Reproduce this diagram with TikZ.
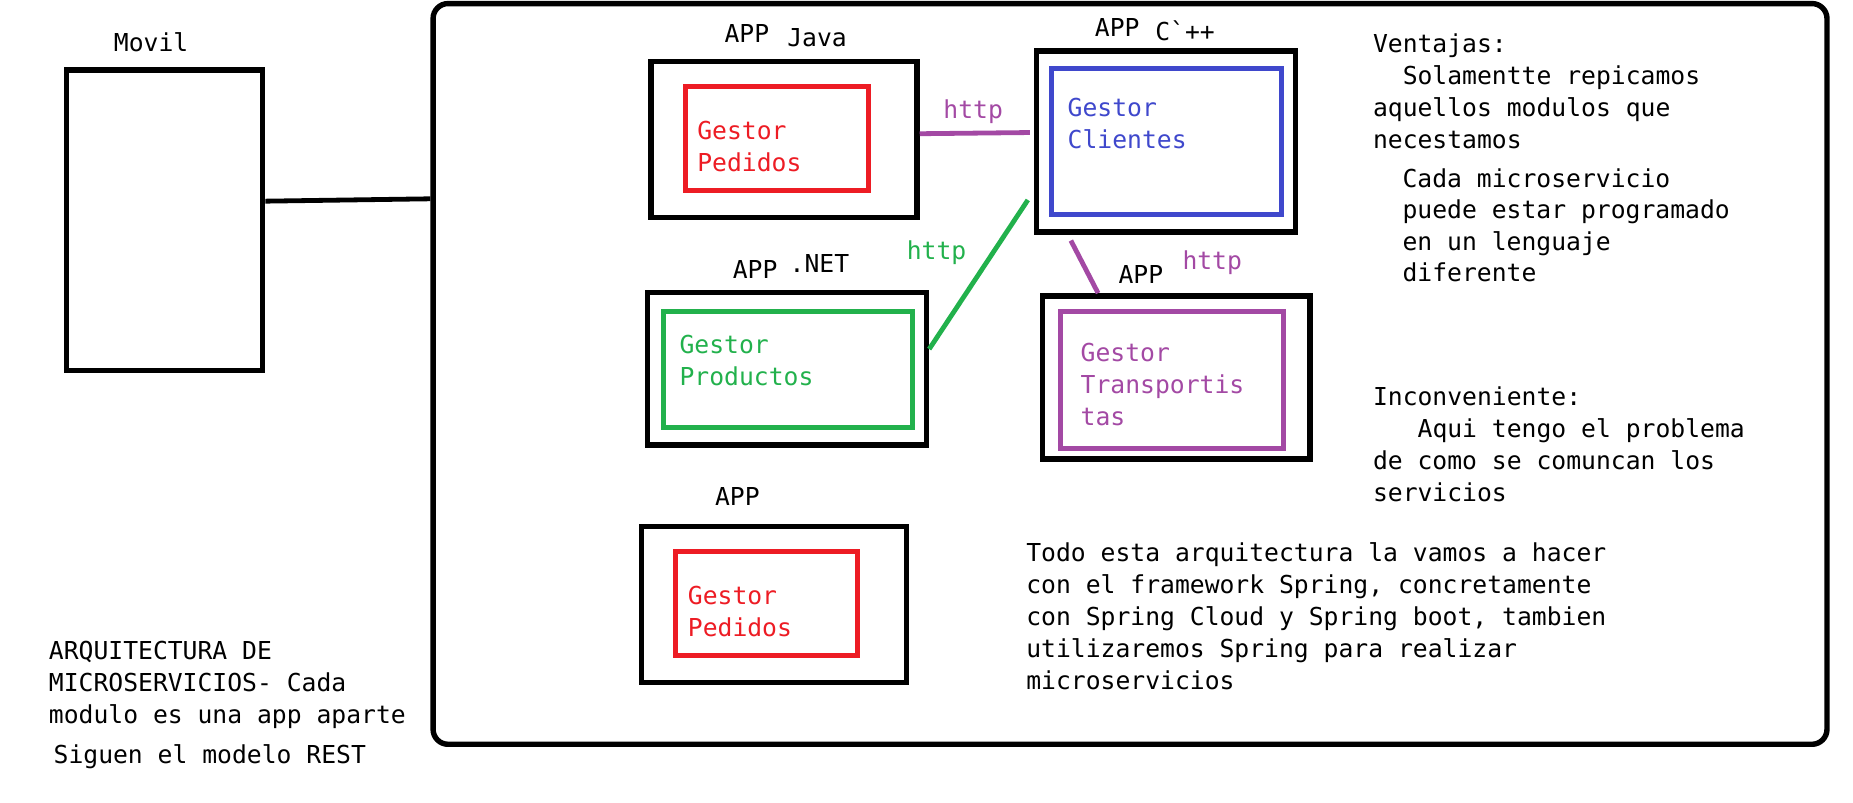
\documentclass[tikz,border=0pt]{standalone}
\usepackage{fontspec}
\setmonofont{DejaVu Sans Mono}
\usetikzlibrary{fit}
\definecolor{pred}{HTML}{ED1C24}
\definecolor{pblue}{HTML}{3F48CC}
\definecolor{pgreen}{HTML}{22B14C}
\definecolor{ppurple}{HTML}{A349A4}
\begin{document}
\begin{tikzpicture}[x=0.5916pt,y=-0.5916pt,
  txt/.style={font=\ttfamily\fontsize{12.35}{16}\selectfont, inner sep=0pt, anchor=base west, yshift=-0.9pt},
  obox/.style={draw=black, line width=2.7pt, inner sep=0pt},
  ibox/.style={draw=#1, line width=2.5pt, inner sep=0pt},
  link/.style={line width=2.4pt}
]
\useasboundingbox (0,0) rectangle (1566,678);

% Movil
\node[txt] (movillbl) at (96,42) {Movil};
\node[obox, fit={(56,59) (222,313)}] (movil) {};

% big container
\node[obox, rounded corners=7.5pt, fit={(366,3) (1544,629)}] (big) {};

% APP Java
\node[txt] (javaapp) at (612,34) {APP};
\node[txt] (javalang) at (665,38) {Java};
\node[obox, fit={(550,52) (775,184)}] (java) {};
\node[ibox=pred, fit={(579,73) (734,161)}] (javain) {};
\node[txt, text=pred] (javat1) at (589,116) {Gestor};
\node[txt, text=pred] (javat2) at (589,143) {Pedidos};

% APP C++
\node[txt] (cppapp) at (925,29) {APP};
\node[txt] (cpplang) at (976,33) {C\char"0060++};
\node[obox, fit={(876,43) (1095,196)}] (cpp) {};
\node[ibox=pblue, fit={(889,58) (1083,181)}] (cppin) {};
\node[txt, text=pblue] (cppt1) at (902,97) {Gestor};
\node[txt, text=pblue] (cppt2) at (902,124) {Clientes};

% APP .NET
\node[txt] (netapp) at (619,234) {APP};
\node[txt] (netlang) at (667,229) {.NET};
\node[obox, fit={(547,247) (783,376)}] (net) {};
\node[ibox=pgreen, fit={(561,263) (771,361)}] (netin) {};
\node[txt, text=pgreen] (nett1) at (574,297) {Gestor};
\node[txt, text=pgreen] (nett2) at (574,324) {Productos};

% APP Transportistas
\node[txt] (trapp) at (945,238) {APP};
\node[obox, fit={(881,250) (1107,388)}] (tr) {};
\node[ibox=ppurple, fit={(896,263) (1085,379)}] (trin) {};
\node[txt, text=ppurple] (trt1) at (913,304) {Gestor};
\node[txt, text=ppurple] (trt2) at (913,331) {Transportis};
\node[txt, text=ppurple] (trt3) at (913,358) {tas};

% bottom APP
\node[txt] (botapp) at (604,426) {APP};
\node[obox, fit={(542,445) (766,577)}] (bot) {};
\node[ibox=pred, fit={(571,466) (725,554)}] (botin) {};
\node[txt, text=pred] (bott1) at (581,509) {Gestor};
\node[txt, text=pred] (bott2) at (581,536) {Pedidos};

% connectors
\draw[link] (movil.east |- 0,170) -- (big.west |- 0,168);
\draw[link, ppurple] (java.east |- 0,113) -- ([xshift=-2pt]cpp.west |- 0,112);
\node[txt, text=ppurple] (http1) at (797,99) {http};
\draw[link, pgreen] ([xshift=-3pt]cpp.west |- 0,169) -- (net.east |- 0,295);
\node[txt, text=pgreen] (http2) at (766,218) {http};
\draw[link, ppurple] (cpp.south -| 905,0) ++(0,5) -- (tr.north -| 928,0);
\node[txt, text=ppurple] (http3) at (999,226) {http};

% Ventajas
\node[txt] (v1) at (1160,43) {Ventajas:};
\node[txt] (v2) at (1160,70) {\phantom{xx}Solamentte repicamos};
\node[txt] (v3) at (1160,97) {aquellos modulos que};
\node[txt] (v4) at (1160,124) {necestamos};
\node[txt] (c1) at (1185,157) {Cada microservicio};
\node[txt] (c2) at (1185,183) {puede estar programado};
\node[txt] (c3) at (1185,210) {en un lenguaje};
\node[txt] (c4) at (1185,236) {diferente};

% Inconveniente
\node[txt] (i1) at (1160,341) {Inconveniente:};
\node[txt] (i2) at (1160,368) {\phantom{xxx}Aqui tengo el problema};
\node[txt] (i3) at (1160,395) {de como se comuncan los};
\node[txt] (i4) at (1160,422) {servicios};

% Spring text
\node[txt] (s1) at (867,473) {Todo esta arquitectura la vamos a hacer};
\node[txt] (s2) at (867,500) {con el framework Spring, concretamente};
\node[txt] (s3) at (867,527) {con Spring Cloud y Spring boot, tambien};
\node[txt] (s4) at (867,554) {utilizaremos Spring para realizar};
\node[txt] (s5) at (867,581) {microservicios};

% bottom-left text
\node[txt] (a1) at (41,556) {ARQUITECTURA DE};
\node[txt] (a2) at (41,583) {MICROSERVICIOS- Cada};
\node[txt] (a3) at (41,610) {modulo es una app aparte};
\node[txt] (a4) at (45,644) {Siguen el modelo REST};
\end{tikzpicture}
\end{document}
